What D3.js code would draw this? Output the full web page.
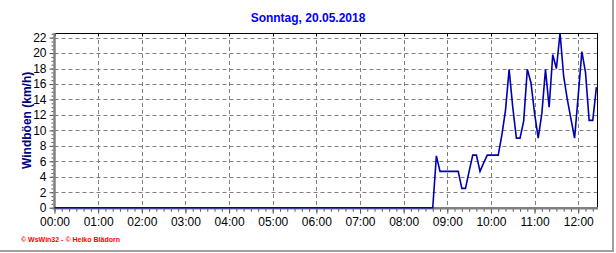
<!DOCTYPE html>
<html>
<head>
<meta charset="utf-8">
<script src="https://cdn.jsdelivr.net/npm/d3@7"></script>
<style>
  body { margin: 0; background: #fff; }
  svg { display: block; font-family: "Liberation Sans", Arial, sans-serif; }
</style>
</head>
<body>
<div id="chart"></div>
<script>
// Windböen, Sonntag 20.05.2018 (Zeit in Minuten seit 00:00)
const zeiten = [0, 520, 525, 530, 535, 540, 545, 550, 555, 560, 565, 570, 575, 580, 585,
  590, 595, 600, 605, 610, 615, 620, 625, 630, 635, 640, 645, 650, 655, 660, 665,
  670, 675, 680, 685, 690, 695, 700, 705, 710, 715, 720, 725, 730, 735, 740, 745];
const boeen = [0, 0, 6.7, 4.7, 4.7, 4.7, 4.7, 4.7, 4.7, 2.5, 2.5, 4.7, 6.8, 6.8, 4.7,
  5.8, 6.8, 6.8, 6.8, 6.8, 9.4, 12.6, 17.9, 13.0, 9.0, 9.0, 11.2, 17.9, 16.2, 12.2, 9.0,
  12.2, 17.9, 13.0, 19.8, 18.0, 22.6, 17.0, 14.0, 11.5, 9.0, 14.5, 20.2, 17.5, 11.3, 11.3, 15.6];
const stunden = d3.range(0, 13);          // 00:00 .. 12:00
const yTicks = d3.range(0, 23, 2);        // 0 .. 22

const width = 616, height = 253;
const pLeft = 54.5, pRight = 597.5, pTop = 33, pBottom = 207.7;

const svg = d3.select("#chart").append("svg")
  .attr("width", width)
  .attr("height", height);

const x = d3.scaleLinear().domain([0, 746.5]).range([pLeft, pRight]);
const y = d3.scaleLinear().domain([0, 22.6]).range([pBottom, pTop]);

// Rahmen (Fenster)
svg.append("line").attr("x1", 613).attr("x2", 613).attr("y1", 0).attr("y2", 252)
  .attr("stroke", "#a0a0a0").attr("stroke-width", 2);
svg.append("line").attr("x1", 0).attr("x2", 614).attr("y1", 251).attr("y2", 251)
  .attr("stroke", "#a0a0a0").attr("stroke-width", 2);

// Gitter
svg.append("g")
  .selectAll("line")
  .data(yTicks.filter(d => d > 0))
  .join("line")
  .attr("x1", pLeft).attr("x2", pRight)
  .attr("y1", d => Math.round(y(d)) + 0.5).attr("y2", d => Math.round(y(d)) + 0.5)
  .attr("stroke", "#808080").attr("stroke-dasharray", "4,3");

svg.append("g")
  .selectAll("line")
  .data(stunden.filter(d => d > 0))
  .join("line")
  .attr("x1", d => Math.round(x(d * 60)) + 0.5).attr("x2", d => Math.round(x(d * 60)) + 0.5)
  .attr("y1", pTop).attr("y2", pBottom)
  .attr("stroke", "#808080").attr("stroke-dasharray", "4,3");

// Oberer und rechter Rand
svg.append("line").attr("x1", pLeft).attr("x2", pRight + 0.5).attr("y1", pTop + 0.5).attr("y2", pTop + 0.5)
  .attr("stroke", "#000");
svg.append("line").attr("x1", pRight).attr("x2", pRight).attr("y1", pTop).attr("y2", pBottom)
  .attr("stroke", "#000");
svg.append("g")
  .selectAll("line")
  .data(stunden)
  .join("line")
  .attr("x1", d => Math.round(x(d * 60)) + 0.5).attr("x2", d => Math.round(x(d * 60)) + 0.5)
  .attr("y1", pTop).attr("y2", pTop + 3)
  .attr("stroke", "#000");

// X-Achse
const xMinor = svg.append("g")
  .attr("transform", `translate(0,${pBottom + 1})`)
  .call(d3.axisBottom(x).tickValues(d3.range(0, 746, 10)).tickSize(3).tickFormat(""));
xMinor.select(".domain").remove();
xMinor.selectAll("line").attr("stroke", "#555");

const xAxis = svg.append("g")
  .attr("transform", `translate(0,${pBottom + 1})`)
  .call(d3.axisBottom(x)
    .tickValues(stunden.map(h => h * 60))
    .tickSize(5)
    .tickPadding(4)
    .tickFormat(m => d3.format("02")(m / 60) + ":00"));
xAxis.select(".domain").remove();
xAxis.selectAll("line").attr("stroke", "#555");
xAxis.selectAll("text").attr("font-size", 12).attr("fill", "#000")
  .attr("font-family", "Liberation Sans, Arial, sans-serif");

// Y-Achse
const yMinor = svg.append("g")
  .attr("transform", `translate(${pLeft - 1},0)`)
  .call(d3.axisLeft(y).tickValues(d3.range(0, 22.6, 0.5)).tickSize(2).tickFormat(""));
yMinor.select(".domain").remove();
yMinor.selectAll("line").attr("stroke", "#555");

const yAxis = svg.append("g")
  .attr("transform", `translate(${pLeft - 1},0)`)
  .call(d3.axisLeft(y).tickValues(yTicks).tickSize(4).tickPadding(3));
yAxis.select(".domain").remove();
yAxis.selectAll("line").attr("stroke", "#555");
yAxis.selectAll("text").attr("font-size", 12).attr("fill", "#000")
  .attr("font-family", "Liberation Sans, Arial, sans-serif");

// graue Achslinien
svg.append("line").attr("x1", pLeft).attr("x2", pLeft).attr("y1", pTop).attr("y2", pBottom + 2)
  .attr("stroke", "#808080").attr("stroke-width", 2.5);
svg.append("line").attr("x1", pLeft - 1).attr("x2", pRight + 0.5).attr("y1", pBottom + 0.5).attr("y2", pBottom + 0.5)
  .attr("stroke", "#808080").attr("stroke-width", 2.5);

// Messwerte
const linie = d3.line()
  .x((d, i) => x(zeiten[i]))
  .y(d => y(d));

svg.append("path")
  .datum(boeen)
  .attr("d", linie)
  .attr("fill", "none")
  .attr("stroke", "#0000b0")
  .attr("stroke-width", 1.6)
  .attr("stroke-linejoin", "miter");

// Beschriftungen
svg.append("text")
  .attr("x", 308).attr("y", 22)
  .attr("text-anchor", "middle")
  .attr("font-size", 12).attr("font-weight", "bold")
  .attr("fill", "#0000ff")
  .text("Sonntag, 20.05.2018");

svg.append("text")
  .attr("transform", `translate(31,${(pTop + pBottom) / 2}) rotate(-90)`)
  .attr("text-anchor", "middle")
  .attr("font-size", 12).attr("font-weight", "bold")
  .attr("fill", "#000080")
  .text("Windböen (km/h)");

svg.append("text")
  .attr("x", 21).attr("y", 241.5)
  .attr("font-size", 7).attr("font-weight", "bold")
  .attr("fill", "#ff0000")
  .text("© WsWin32  -  © Heiko Blädorn");
</script>
</body>
</html>
